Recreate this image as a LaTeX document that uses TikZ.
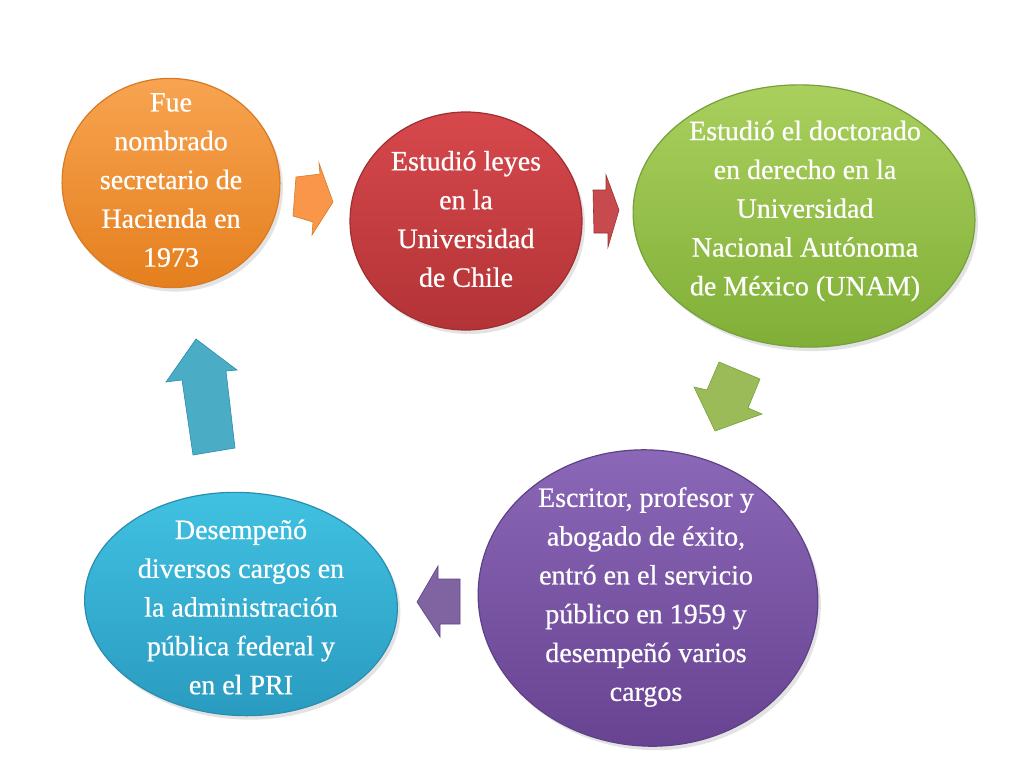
\documentclass[tikz,border=0pt]{standalone}
\usepackage{fontspec}
\setmainfont{Liberation Serif}[FakeBold=0.6]
\usetikzlibrary{shapes.geometric,shadows}
\definecolor{orT}{HTML}{F8A552}
\definecolor{orB}{HTML}{E57F1E}
\definecolor{orD}{HTML}{D87A25}
\definecolor{orA}{HTML}{F9964A}
\definecolor{reT}{HTML}{D6484C}
\definecolor{reB}{HTML}{B33336}
\definecolor{reD}{HTML}{9E2E31}
\definecolor{reA}{HTML}{C74A4E}
\definecolor{grT}{HTML}{AAD05E}
\definecolor{grB}{HTML}{80AF37}
\definecolor{grD}{HTML}{76A03A}
\definecolor{grA}{HTML}{9BBB59}
\definecolor{puT}{HTML}{8C68B8}
\definecolor{puB}{HTML}{674392}
\definecolor{puD}{HTML}{5E4287}
\definecolor{puA}{HTML}{8064A2}
\definecolor{blT}{HTML}{41C2E2}
\definecolor{blB}{HTML}{2A9BC0}
\definecolor{blD}{HTML}{2A8DAE}
\definecolor{blA}{HTML}{4BACC6}
\begin{document}
\begin{tikzpicture}[x=1pt,y=-1pt,
  bubble/.style={ellipse, inner sep=0pt, line width=1.2pt,
    drop shadow={opacity=0.22, shadow xshift=3pt, shadow yshift=-4pt}},
  txt/.style={text=white, align=center, font=\fontsize{28}{38.8}\selectfont},
  blockarrow/.style={line width=0.6pt, line join=miter}]
\useasboundingbox (0,0) rectangle (1024,768);
\fill[white] (0,0) rectangle (1024,768);
% ellipses
\node[bubble, minimum width=218pt, minimum height=209pt, rotate=-8,
  draw=orD, top color=orT, bottom color=orB] (n1) at (171,183) {};
\node[bubble, minimum width=232pt, minimum height=218pt,
  draw=reD, top color=reT, bottom color=reB] (n2) at (466,221) {};
\node[bubble, minimum width=342pt, minimum height=262pt, rotate=-3,
  draw=grD, top color=grT, bottom color=grB] (n3) at (804,216) {};
\node[bubble, minimum width=340pt, minimum height=296pt, rotate=-5,
  draw=puD, top color=puT, bottom color=puB] (n4) at (648,598) {};
\node[bubble, minimum width=313pt, minimum height=223pt, rotate=-3,
  draw=blD, top color=blT, bottom color=blB] (n5) at (241,604) {};
% texts
\node[txt] (t1) at (171,180) {Fue\\nombrado\\secretario de\\Hacienda en\\1973};
\node[txt] (t2) at (466,219) {Estudió leyes\\en la\\Universidad\\de Chile};
\node[txt] (t3) at (805,211) {Estudió el doctorado\\en derecho en la\\Universidad\\Nacional Autónoma\\de México (UNAM)};
\node[txt] (t4) at (646,597) {Escritor, profesor y\\abogado de éxito,\\entró en el servicio\\público en 1959 y\\desempeñó varios\\cargos};
\node[txt] (t5) at (241,607) {Desempeñó\\diversos cargos en\\la administración\\pública federal y\\en el PRI};
% block arrows
\filldraw[blockarrow, fill=orA, draw=orD]
  (296,177) -- (320,174) -- (319,163) -- (333,202) -- (312,235) -- (313,222) -- (293,216) -- cycle;
\filldraw[blockarrow, fill=reA, draw=reD]
  (593,190) -- (606,190) -- (606,175) -- (619,210) -- (608,247) -- (608,233) -- (594,233) -- cycle;
\filldraw[blockarrow, fill=grA, draw=grD]
  (719,362) -- (760,379) -- (748,408) -- (762,414) -- (715,431) -- (694,387) -- (707,390) -- cycle;
\filldraw[blockarrow, fill=puA, draw=puD]
  (417,602) -- (438,566) -- (438,579) -- (460,579) -- (460,624) -- (440,624) -- (440,637) -- cycle;
\filldraw[blockarrow, fill=blA, draw=blD]
  (196,339) -- (237,370) -- (226,371) -- (235,448) -- (193,455) -- (182,380) -- (166,382) -- cycle;
\end{tikzpicture}
\end{document}
